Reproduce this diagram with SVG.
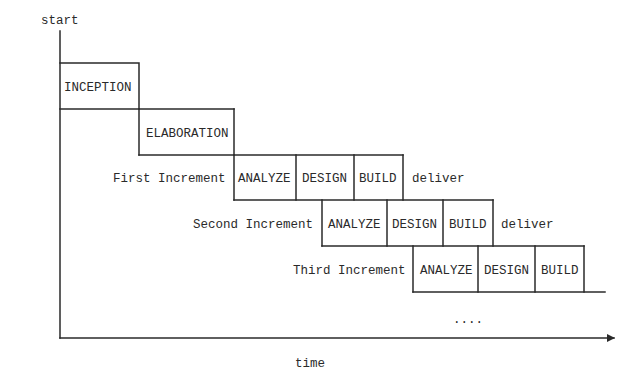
<svg xmlns="http://www.w3.org/2000/svg" width="623" height="379" viewBox="0 0 623 379">
  <style>
    .ln { stroke: #2a2a2a; stroke-width: 1.5; fill: none; stroke-linecap: square; }
    .t { font-family: "Liberation Mono", "DejaVu Sans Mono", monospace; font-size: 12.5px; fill: #2a2a2a; }
  </style>
  <defs>
    <marker id="arrow" markerWidth="8" markerHeight="8" refX="7" refY="4" orient="auto" markerUnits="userSpaceOnUse">
      <path d="M0,0 L8,4 L0,8 Z" fill="#2a2a2a"/>
    </marker>
  </defs>
  <rect width="623" height="379" fill="#ffffff"/>

  <!-- time axes -->
  <g id="axes">
    <text class="t" x="41" y="24">start</text>
    <line class="ln" x1="60" y1="31" x2="60" y2="338"/>
    <line class="ln" x1="60" y1="338" x2="614" y2="338" marker-end="url(#arrow)"/>
    <text class="t" x="295" y="367">time</text>
    <text class="t" x="453" y="323">....</text>
  </g>

  <!-- inception phase -->
  <g id="inception">
    <polyline class="ln" points="60,63 139,63 139,109"/>
    <line class="ln" x1="60" y1="109" x2="234" y2="109"/>
    <text class="t" x="64" y="91">INCEPTION</text>
  </g>

  <!-- elaboration phase -->
  <g id="elaboration">
    <line class="ln" x1="139" y1="109" x2="139" y2="155"/>
    <line class="ln" x1="234" y1="109" x2="234" y2="155"/>
    <line class="ln" x1="139" y1="155" x2="403" y2="155"/>
    <text class="t" x="146" y="137">ELABORATION</text>
  </g>

  <!-- first increment -->
  <g id="increment1">
    <text class="t" x="113" y="182">First Increment</text>
    <line class="ln" x1="234" y1="155" x2="234" y2="200"/>
    <line class="ln" x1="296" y1="155" x2="296" y2="200"/>
    <line class="ln" x1="354" y1="155" x2="354" y2="200"/>
    <line class="ln" x1="403" y1="155" x2="403" y2="200"/>
    <line class="ln" x1="234" y1="200" x2="493" y2="200"/>
    <text class="t" x="238" y="182">ANALYZE</text>
    <text class="t" x="302" y="182">DESIGN</text>
    <text class="t" x="359" y="182">BUILD</text>
    <text class="t" x="412" y="182">deliver</text>
  </g>

  <!-- second increment -->
  <g id="increment2">
    <text class="t" x="193" y="228">Second Increment</text>
    <line class="ln" x1="322" y1="200" x2="322" y2="246"/>
    <line class="ln" x1="387" y1="200" x2="387" y2="246"/>
    <line class="ln" x1="443" y1="200" x2="443" y2="246"/>
    <line class="ln" x1="493" y1="200" x2="493" y2="246"/>
    <line class="ln" x1="322" y1="246" x2="584" y2="246"/>
    <text class="t" x="328" y="228">ANALYZE</text>
    <text class="t" x="392" y="228">DESIGN</text>
    <text class="t" x="449" y="228">BUILD</text>
    <text class="t" x="501" y="228">deliver</text>
  </g>

  <!-- third increment -->
  <g id="increment3">
    <text class="t" x="293" y="274">Third Increment</text>
    <line class="ln" x1="413" y1="246" x2="413" y2="292"/>
    <line class="ln" x1="478" y1="246" x2="478" y2="292"/>
    <line class="ln" x1="535" y1="246" x2="535" y2="292"/>
    <line class="ln" x1="584" y1="246" x2="584" y2="292"/>
    <line class="ln" x1="413" y1="292" x2="605" y2="292"/>
    <text class="t" x="420" y="274">ANALYZE</text>
    <text class="t" x="484" y="274">DESIGN</text>
    <text class="t" x="541" y="274">BUILD</text>
  </g>
</svg>
